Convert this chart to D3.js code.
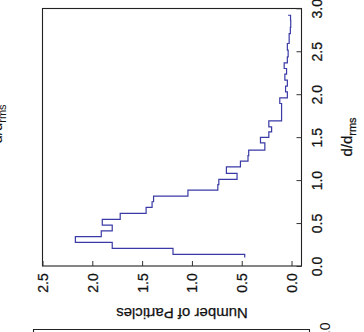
<!DOCTYPE html>
<html>
<head>
<meta charset="utf-8">
<script src="https://cdn.jsdelivr.net/npm/d3@7"></script>
<style>
  html, body { margin: 0; padding: 0; background: #fff; }
  svg { display: block; }
  text { font-family: "Liberation Sans", Arial, sans-serif; fill: #111; }
</style>
</head>
<body>
<svg id="chart" width="364" height="332"></svg>
<script>
// ---- data ----
// d/d_rms position where each step starts
const dStart = [0.100, 0.136, 0.206, 0.276, 0.341, 0.410, 0.477, 0.543, 0.613, 0.683,
                0.748, 0.814, 0.884, 0.948, 1.008, 1.078, 1.153, 1.221, 1.285, 1.349,
                1.434, 1.497, 1.562, 1.620, 1.690, 1.756, 1.826, 1.892, 1.957, 2.027,
                2.093, 2.163, 2.233, 2.299, 2.364, 2.434, 2.512, 2.590, 2.651, 2.706,
                2.779, 2.860, 2.919];
// number of particles on each step
const counts = [0.47, 1.19, 1.80, 2.17, 1.91, 1.80, 1.90, 1.72, 1.46, 1.40,
                1.385, 1.04, 0.74, 0.73, 0.547, 0.654, 0.513, 0.437, 0.43, 0.268,
                0.312, 0.228, 0.20, 0.228, 0.10, 0.10, 0.10, 0.118, 0.042, 0.06,
                0.042, 0.067, 0.05, 0.074, 0.042, 0.034, 0.042, 0.024, 0.024, 0.012,
                0.008, 0.010, 0.035];
const dTicks = [0.0, 0.5, 1.0, 1.5, 2.0, 2.5, 3.0];
const nTicks = [0.0, 0.5, 1.0, 1.5, 2.0, 2.5];
const dTitle = "d/d", dTitleSub = "rms";
const nTitle = "Number of Particles";

const svg = d3.select("#chart");

// Chart is drawn rotated 90° counter-clockwise: d runs bottom->top, count runs right->left
const yD = d3.scaleLinear().domain([0, 3]).range([266, 8.3]);
const xN = d3.scaleLinear().domain([-0.1, 2.5]).range([301.5, 42.5]);

// plot box
svg.append("rect")
  .attr("x", 42.5).attr("y", 8.5)
  .attr("width", 259).attr("height", 257.5)
  .attr("fill", "none").attr("stroke", "#222").attr("stroke-width", 1.1);

// d axis (right side), ticks inward
const gD = svg.append("g").attr("transform", "translate(301.5,0)")
  .call(d3.axisRight(yD).tickValues(dTicks).tickSize(-5).tickFormat(d3.format(".1f")));
gD.select(".domain").remove();
gD.selectAll(".tick line").attr("stroke", "#333");
gD.selectAll(".tick text")
  .attr("x", null).attr("dy", null).attr("text-anchor", "middle")
  .attr("transform", "translate(20.5,0) rotate(-90)")
  .style("font-size", "14px").style("font-family", "Liberation Sans, Arial, sans-serif")
  .attr("fill", "#111").attr("stroke", "#111").attr("stroke-width", 0.25);

// count axis (bottom), ticks inward
const gN = svg.append("g").attr("transform", "translate(0,266)")
  .call(d3.axisBottom(xN).tickValues(nTicks).tickSize(-5).tickFormat(d3.format(".1f")));
gN.select(".domain").remove();
gN.selectAll(".tick line").attr("stroke", "#333");
gN.selectAll(".tick text")
  .attr("y", null).attr("dy", null).attr("text-anchor", "middle")
  .attr("transform", "translate(5,17) rotate(-90)")
  .style("font-size", "14px").style("font-family", "Liberation Sans, Arial, sans-serif")
  .attr("fill", "#111").attr("stroke", "#111").attr("stroke-width", 0.25);

// step line
const pts = dStart.map((d, i) => [d, counts[i]]);
const line = d3.line()
  .x(p => xN(p[1]))
  .y(p => yD(p[0]))
  .curve(d3.curveStepBefore);
svg.append("path")
  .attr("d", line(pts))
  .attr("fill", "none")
  .attr("stroke", "#3a3aa6")
  .attr("stroke-width", 1.2);

// axis titles
const t1 = svg.append("text")
  .attr("transform", "translate(352,137) rotate(-90)")
  .attr("text-anchor", "middle")
  .attr("stroke", "#111").attr("stroke-width", 0.25)
  .style("font-size", "15px");
t1.append("tspan").text(dTitle);
t1.append("tspan").attr("dy", 4).style("font-size", "11px").text(dTitleSub);

svg.append("text")
  .attr("transform", "translate(182,308) rotate(180)")
  .attr("text-anchor", "middle")
  .attr("stroke", "#111").attr("stroke-width", 0.25)
  .style("font-size", "15px")
  .text(nTitle);

// fragments of neighbouring panels
const f1 = svg.append("text")
  .attr("transform", "translate(2,124) rotate(-90)")
  .attr("text-anchor", "middle")
  .style("font-size", "15px");
f1.append("tspan").text(dTitle);
f1.append("tspan").attr("dy", 4).style("font-size", "11px").text(dTitleSub);

svg.append("path")
  .attr("d", "M33.5,340 V329.5 H309.5 V340")
  .attr("fill", "none").attr("stroke", "#222").attr("stroke-width", 1.1);
svg.append("text")
  .attr("transform", "translate(330,342) rotate(-90)")
  .attr("text-anchor", "start")
  .style("font-size", "14px")
  .text("0.0");
</script>
</body>
</html>
